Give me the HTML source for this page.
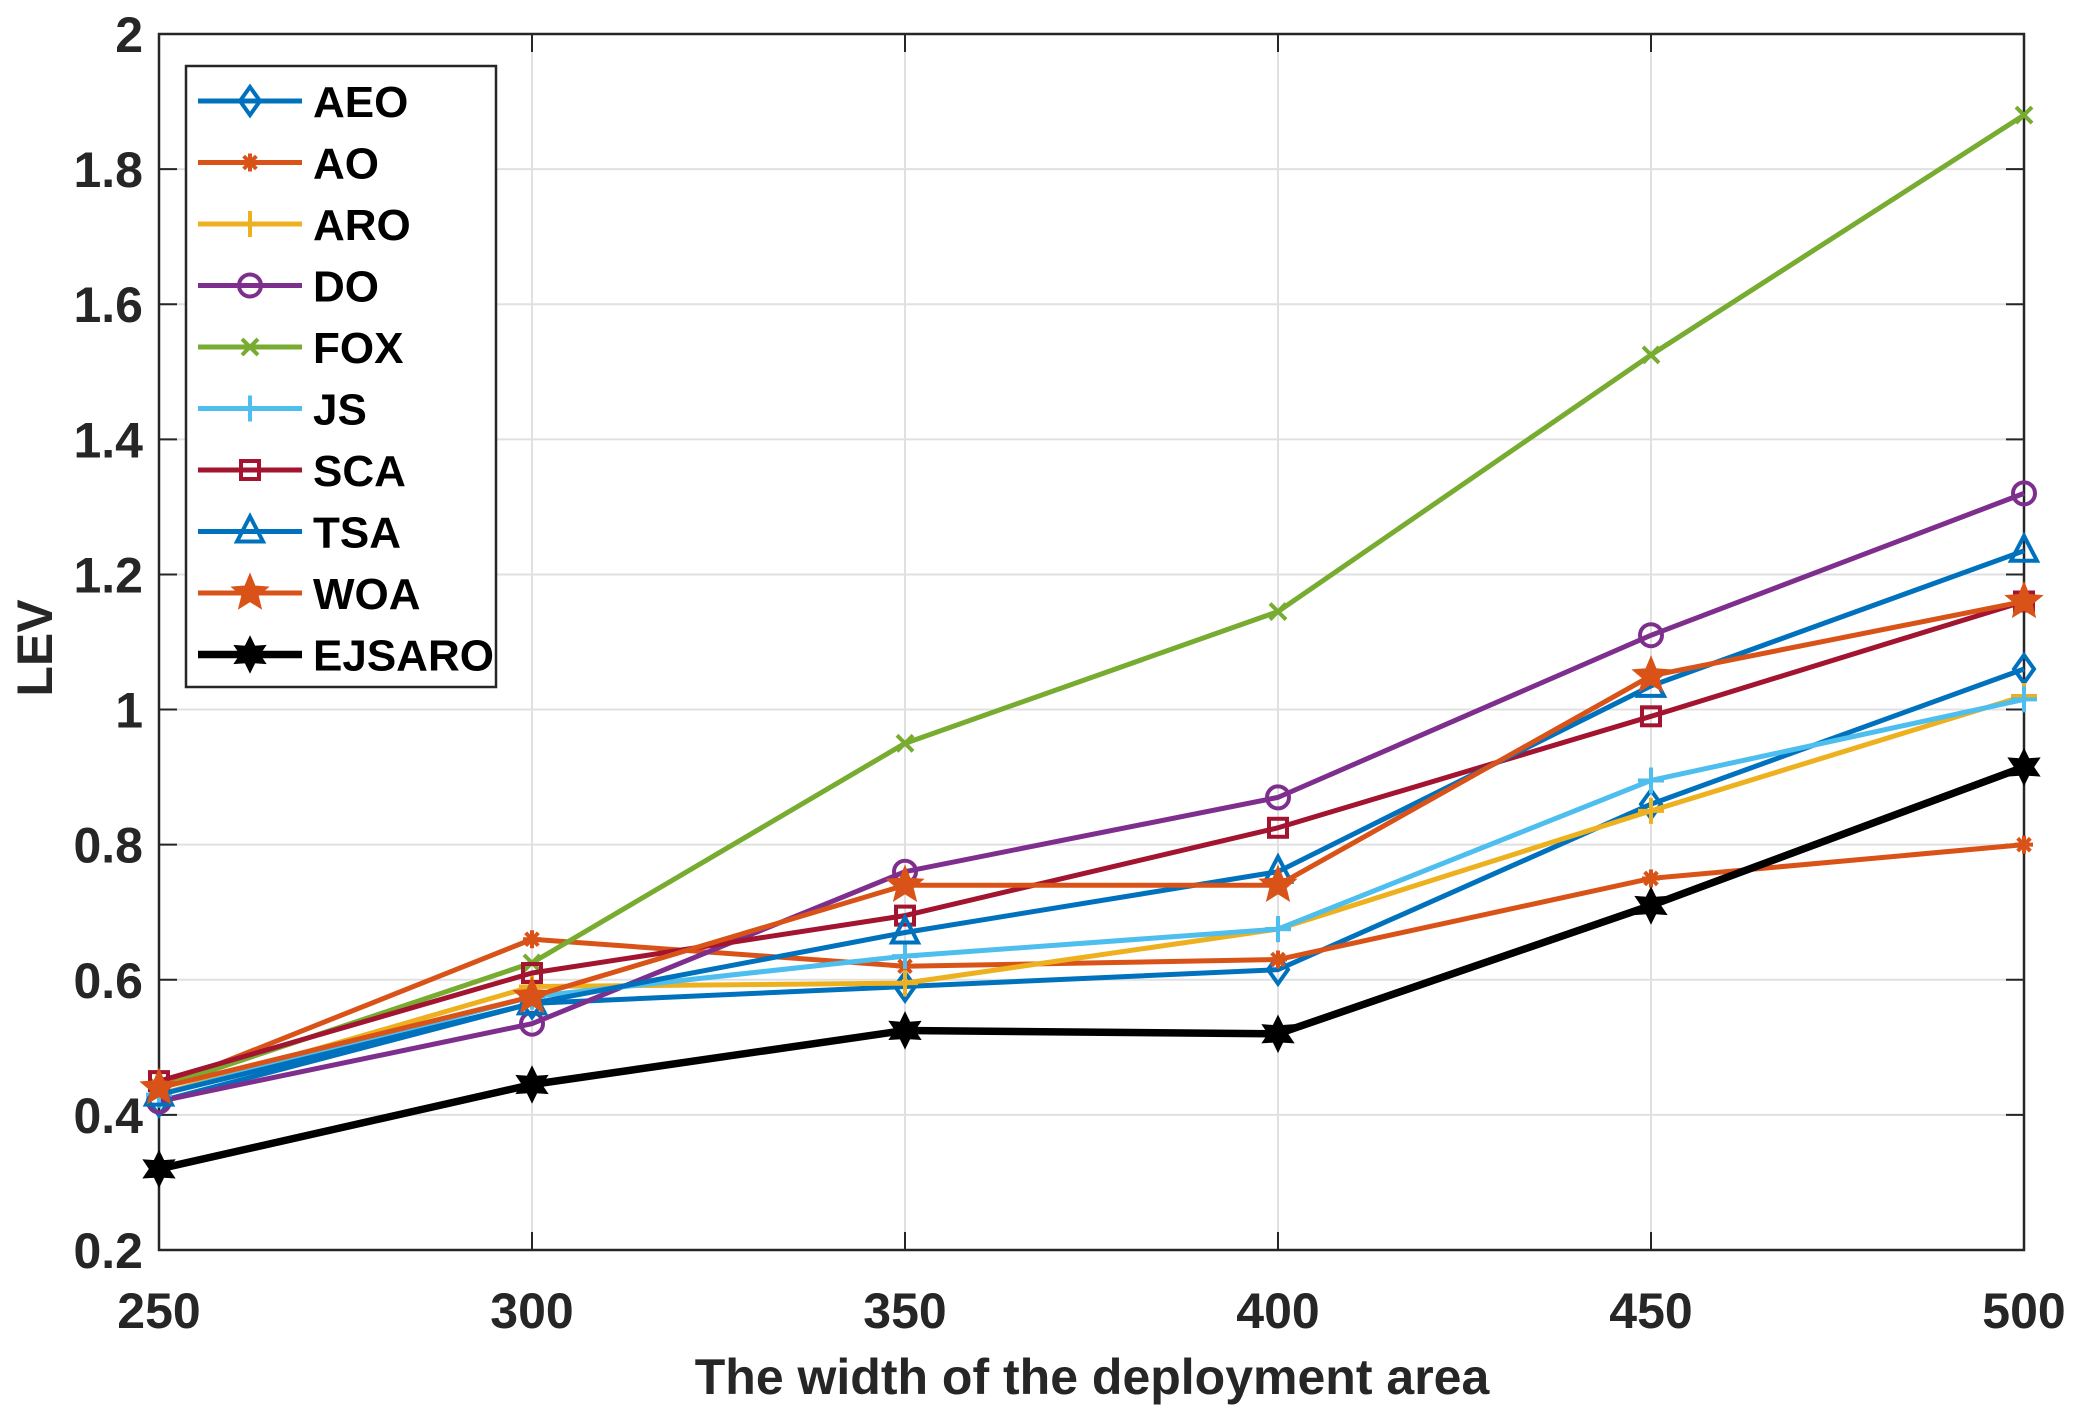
<!DOCTYPE html>
<html><head><meta charset="utf-8"><style>
html,body{margin:0;padding:0;background:#fff;}
svg{display:block;font-family:"Liberation Sans",Arial,sans-serif;font-weight:bold;}
</style></head><body>
<svg id="chart" width="2075" height="1426" viewBox="0 0 2075 1426" xmlns="http://www.w3.org/2000/svg">
<rect x="0" y="0" width="2075" height="1426" fill="#fff"/>
<g id="grid"></g>
<g id="axes"></g>
<g id="series"></g>
<g id="legend"></g>
<text x="0" y="0" transform="translate(52,648) rotate(-90)" text-anchor="middle" font-size="50" fill="#262626">LEV</text>
<text x="1092" y="1394" text-anchor="middle" font-size="50" fill="#262626">The width of the deployment area</text>
</svg>
<script>
const categories = [250, 300, 350, 400, 450, 500];
const yTicks = [0.2, 0.4, 0.6, 0.8, 1, 1.2, 1.4, 1.6, 1.8, 2];
const yTickLabels = ["0.2","0.4","0.6","0.8","1","1.2","1.4","1.6","1.8","2"];
const seriesNames = ["AEO","AO","ARO","DO","FOX","JS","SCA","TSA","WOA","EJSARO"];
const aeo = [0.42, 0.565, 0.59, 0.615, 0.86, 1.06];
const ao = [0.44, 0.66, 0.62, 0.63, 0.75, 0.80];
const aro = [0.43, 0.59, 0.595, 0.675, 0.85, 1.02];
const dO = [0.42, 0.535, 0.76, 0.87, 1.11, 1.32];
const fox = [0.44, 0.625, 0.95, 1.145, 1.525, 1.88];
const js = [0.43, 0.575, 0.635, 0.675, 0.895, 1.015];
const sca = [0.45, 0.61, 0.695, 0.825, 0.99, 1.16];
const tsa = [0.43, 0.565, 0.67, 0.76, 1.035, 1.235];
const woa = [0.44, 0.575, 0.74, 0.74, 1.05, 1.16];
const ejsaro = [0.32, 0.445, 0.525, 0.52, 0.71, 0.915];

const NS = "http://www.w3.org/2000/svg";
const L = 159, R = 2024, T = 34, B = 1250;
const xMin = 250, xMax = 500, yMin = 0.2, yMax = 2;
function xs(v){ return L + (v - xMin) / (xMax - xMin) * (R - L); }
function ys(v){ return B - (v - yMin) / (yMax - yMin) * (B - T); }
function mk(tag, attrs, parent){ const e = document.createElementNS(NS, tag); for (const k in attrs) e.setAttribute(k, attrs[k]); parent.appendChild(e); return e; }

const grid = document.getElementById('grid');
const axes = document.getElementById('axes');
categories.forEach(c => {
  const g = mk('line', {x1: xs(c), x2: xs(c), y1: T, y2: B, stroke: '#e0e0e0', 'stroke-width': 2}, grid);
  
  
  mk('line', {x1: xs(c), x2: xs(c), y1: B, y2: B - 18, stroke: '#262626', 'stroke-width': 2}, axes);
  mk('line', {x1: xs(c), x2: xs(c), y1: T, y2: T + 18, stroke: '#262626', 'stroke-width': 2}, axes);
  const t = mk('text', {x: xs(c), y: 1328, 'text-anchor': 'middle', 'font-size': 50, fill: '#262626'}, axes);
  t.textContent = String(c);
  
  
});
yTicks.forEach((v, i) => {
  const g = mk('line', {x1: L, x2: R, y1: ys(v), y2: ys(v), stroke: '#e0e0e0', 'stroke-width': 2}, grid);
  
  
  mk('line', {x1: L, x2: L + 18, y1: ys(v), y2: ys(v), stroke: '#262626', 'stroke-width': 2}, axes);
  mk('line', {x1: R, x2: R - 18, y1: ys(v), y2: ys(v), stroke: '#262626', 'stroke-width': 2}, axes);
  const t = mk('text', {x: L - 16, y: ys(v) + 18, 'text-anchor': 'end', 'font-size': 50, fill: '#262626'}, axes);
  t.textContent = yTickLabels[i];
  
  
});
const frame = mk('rect', {x: L, y: T, width: R - L, height: B - T, fill: 'none', stroke: '#262626', 'stroke-width': 2.5}, axes);



const seriesData = [aeo, ao, aro, dO, fox, js, sca, tsa, woa, ejsaro];
const colors = ['#0072BD','#D95319','#EDB120','#7E2F8E','#77AC30','#4DBEEE','#A2142F','#0072BD','#D95319','#000000'];
const markers = ['diamond','asterisk','plus','circle','x','plus','square','triangle','star','hexstar'];

function marker(type, cx, cy, col, parent){
  const sw = 4;
  const common = {fill: 'none', stroke: col, 'stroke-width': sw};
  if (type === 'diamond') mk('polygon', Object.assign({points: `${cx},${cy-14} ${cx+10},${cy} ${cx},${cy+14} ${cx-10},${cy}`}, common), parent);
  else if (type === 'circle') mk('circle', Object.assign({cx: cx, cy: cy, r: 11}, common), parent);
  else if (type === 'square') mk('rect', Object.assign({x: cx-9, y: cy-9, width: 18, height: 18}, common), parent);
  else if (type === 'triangle') mk('polygon', Object.assign({points: `${cx},${cy-15} ${cx+13},${cy+10} ${cx-13},${cy+10}`}, common), parent);
  else if (type === 'plus') { mk('line', {x1: cx, x2: cx, y1: cy-13, y2: cy+13, stroke: col, 'stroke-width': sw}, parent); mk('line', {x1: cx-13, x2: cx+13, y1: cy, y2: cy, stroke: col, 'stroke-width': sw}, parent); }
  else if (type === 'x') { mk('line', {x1: cx-8, x2: cx+8, y1: cy-8, y2: cy+8, stroke: col, 'stroke-width': sw}, parent); mk('line', {x1: cx-8, x2: cx+8, y1: cy+8, y2: cy-8, stroke: col, 'stroke-width': sw}, parent); }
  else if (type === 'asterisk') { for (let a = 0; a < 180; a += 45) { const r = a * Math.PI / 180; mk('line', {x1: cx - 9*Math.cos(r), x2: cx + 9*Math.cos(r), y1: cy - 9*Math.sin(r), y2: cy + 9*Math.sin(r), stroke: col, 'stroke-width': sw}, parent); } }
  else if (type === 'star' || type === 'hexstar') {
    const n = type === 'star' ? 5 : 6, ro = type === 'star' ? 18 : 17, ri = type === 'star' ? 8 : 9;
    let pts = [];
    for (let k = 0; k < 2*n; k++) { const ang = -Math.PI/2 + k * Math.PI / n; const rr = k % 2 ? ri : ro; pts.push((cx + rr*Math.cos(ang)).toFixed(1) + ',' + (cy + rr*Math.sin(ang)).toFixed(1)); }
    mk('polygon', {points: pts.join(' '), fill: col, stroke: col, 'stroke-width': 2}, parent);
  }
}

const seriesG = document.getElementById('series');
seriesData.forEach((d, si) => {
  const g = mk('g', {}, seriesG);
  
  
  const pts = d.map((v, i) => xs(categories[i]) + ',' + ys(v)).join(' ');
  const pl = mk('polyline', {points: pts, fill: 'none', stroke: colors[si], 'stroke-width': si === 9 ? 7.5 : 5, 'stroke-linejoin': 'round'}, g);
  
  
  d.forEach((v, i) => marker(markers[si], xs(categories[i]), ys(v), colors[si], g));
});

const lg = document.getElementById('legend');
const box = mk('rect', {x: 186, y: 66, width: 310, height: 621, fill: '#fff', stroke: '#262626', 'stroke-width': 2.5}, lg);


seriesNames.forEach((n, i) => {
  const y = 101 + i * 61.5;
  const e = mk('g', {}, lg);
  
  
  mk('line', {x1: 198, x2: 302, y1: y, y2: y, stroke: colors[i], 'stroke-width': i === 9 ? 7.5 : 5}, e);
  marker(markers[i], 250, y, colors[i], e);
  const t = mk('text', {x: 313, y: y + 16, 'font-size': 44, fill: '#000'}, e);
  t.textContent = n;
});
</script>
</body></html>
